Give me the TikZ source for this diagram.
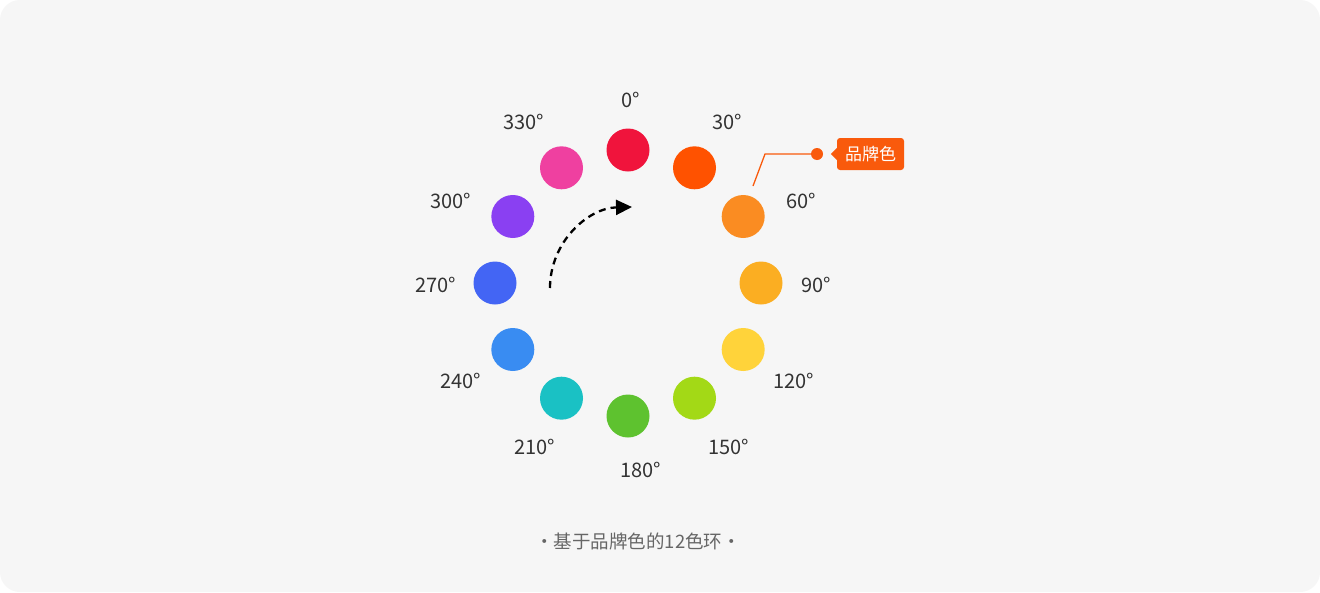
\documentclass[tikz,border=0pt]{standalone}
\usepackage{fontspec}
\setmainfont{Noto Sans CJK SC}
\usepackage{xcolor}
\usepackage{tikz}
\usetikzlibrary{arrows.meta}

\definecolor{cardgray}{HTML}{F6F6F6}
\definecolor{labelgray}{HTML}{333333}
\definecolor{captiongray}{HTML}{666666}
\definecolor{brandorange}{HTML}{F95A0C}
\definecolor{hue0}{HTML}{F0143C}
\definecolor{hue30}{HTML}{FF5200}
\definecolor{hue60}{HTML}{FA8C22}
\definecolor{hue90}{HTML}{FBAE22}
\definecolor{hue120}{HTML}{FFD33A}
\definecolor{hue150}{HTML}{A3D916}
\definecolor{hue180}{HTML}{5EC22F}
\definecolor{hue210}{HTML}{1AC1C4}
\definecolor{hue240}{HTML}{398CF2}
\definecolor{hue270}{HTML}{4365F4}
\definecolor{hue300}{HTML}{8A40F2}
\definecolor{hue330}{HTML}{EF40A0}

\begin{document}
\begin{tikzpicture}[x=1pt, y=-1pt]
\tikzstyle{swatch}=[circle, minimum size=43pt, inner sep=0pt]
\tikzstyle{degree}=[text=labelgray, inner sep=0pt, font=\fontsize{20}{20}\selectfont]
\tikzstyle{brandtag}=[fill=brandorange, text=white, rounded corners=3pt, minimum width=67pt, minimum height=32pt, inner sep=0pt, font=\fontsize{17}{17}\selectfont]
\tikzstyle{branddot}=[circle, fill=brandorange, minimum size=12pt, inner sep=0pt]
\tikzstyle{turn}=[draw=black, line width=2.3pt, dash pattern=on 7pt off 5pt, -{Triangle[length=16pt, width=15pt]}]

% Background 'card'
\useasboundingbox[fill=white] (0,0) rectangle (1320,592);
\path[fill=cardgray, rounded corners=20pt] (0,0) rectangle (1320,592);

\coordinate (hub) at (628,283);

\node[swatch, fill=hue0] (hue-0) at ([shift={(-90:133)}]hub) {};
\node[swatch, fill=hue30] (hue-30) at ([shift={(-60:133)}]hub) {};
\node[swatch, fill=hue60] (hue-60) at ([shift={(-30:133)}]hub) {};
\node[swatch, fill=hue90] (hue-90) at ([shift={(0:133)}]hub) {};
\node[swatch, fill=hue120] (hue-120) at ([shift={(30:133)}]hub) {};
\node[swatch, fill=hue150] (hue-150) at ([shift={(60:133)}]hub) {};
\node[swatch, fill=hue180] (hue-180) at ([shift={(90:133)}]hub) {};
\node[swatch, fill=hue210] (hue-210) at ([shift={(120:133)}]hub) {};
\node[swatch, fill=hue240] (hue-240) at ([shift={(150:133)}]hub) {};
\node[swatch, fill=hue270] (hue-270) at ([shift={(180:133)}]hub) {};
\node[swatch, fill=hue300] (hue-300) at ([shift={(210:133)}]hub) {};
\node[swatch, fill=hue330] (hue-330) at ([shift={(240:133)}]hub) {};

\node[degree] (deg-0) at (631,100) {0°};
\node[degree] (deg-30) at (727,122) {30°};
\node[degree] (deg-60) at (801,201) {60°};
\node[degree] (deg-90) at (816,285) {90°};
\node[degree] (deg-120) at (794,381) {120°};
\node[degree] (deg-150) at (729,447) {150°};
\node[degree] (deg-180) at (641,470) {180°};
\node[degree] (deg-210) at (535,447) {210°};
\node[degree] (deg-240) at (461,381) {240°};
\node[degree] (deg-270) at (436,285) {270°};
\node[degree] (deg-300) at (451,201) {300°};
\node[degree] (deg-330) at (524,122) {330°};

% brand colour callout
\node[branddot] (brand-dot) at (817,154) {};
\coordinate (brand-foot) at (753,186);
\coordinate (brand-knee) at (765,154);
\draw[brandorange, line width=1.3pt] (brand-foot) -- (brand-knee) -- (brand-dot);
\node[brandtag] (brand-tag) at (870.5,154) {品牌色};
\fill[brandorange] ([yshift=6pt]brand-tag.west) -- ++(-6,6) -- ++(6,6) -- cycle;

\coordinate (turn-start) at (550,288);
\coordinate (turn-end) at (632,207);
\draw[turn] (turn-start) .. controls (550,242) and (588,208) .. (turn-end);

\node[text=captiongray, font=\fontsize{18.5}{18.5}\selectfont] (caption) at (638,541) {·基于品牌色的12色环·};
\end{tikzpicture}
\end{document}
